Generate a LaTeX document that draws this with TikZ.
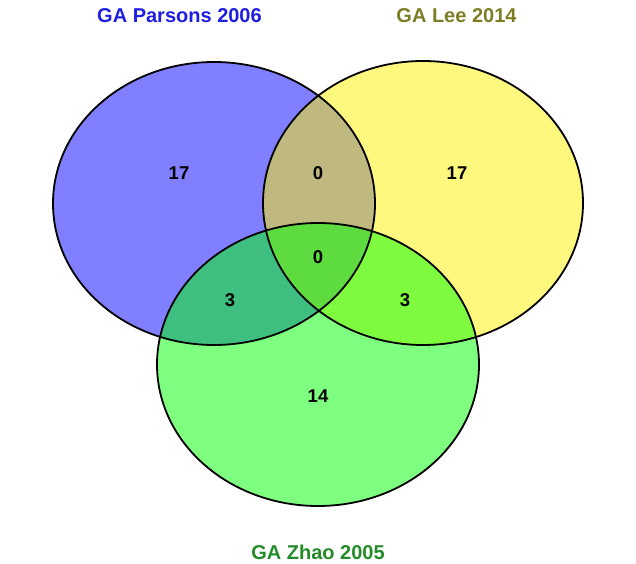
\documentclass[tikz,border=0pt]{standalone}
\usepackage{fontspec}
\setmainfont{Liberation Sans}
\usepackage{xcolor}
\usepackage{tikz}
\usetikzlibrary{positioning}
\definecolor{parsonsblue}{RGB}{30,30,225}
\definecolor{leeolive}{RGB}{125,125,35}
\definecolor{zhaogreen}{RGB}{35,140,40}
\tikzset{%
	setfill/.style  = {fill opacity=0.5}, % shaded set
	setline/.style  = {draw=black, line width=1.8pt}, % set outline
	count/.style    = {font=\fontsize{18.5}{18.5}\selectfont\bfseries, inner sep=0pt},
	title/.style    = {font=\fontsize{20}{20}\selectfont\bfseries, inner sep=0pt},
}

\begin{document}
\begin{tikzpicture}[x=1pt,y=1pt,node distance = 139pt]
	\useasboundingbox (0,0) rectangle (636,563);
	\coordinate (cp) at (214,359.5);
	\coordinate (cl) at (423,360);
	\coordinate (cz) at (318,198.5);
	\fill[setfill,blue] (cp) ellipse [x radius=161, y radius=141.5];
	\fill[setfill,yellow] (cl) ellipse [x radius=160, y radius=142];
	\fill[setfill,green] (cz) ellipse [x radius=161, y radius=141.5];
	\draw[setline] (cp) ellipse [x radius=161, y radius=141.5];
	\draw[setline] (cl) ellipse [x radius=160, y radius=142];
	\draw[setline] (cz) ellipse [x radius=161, y radius=141.5];
	\node[count] (p) at (179,390) {17};
	\node[count,right of=p] (pl) {0};
	\node[count,right of=pl] (l) {17};
	\node[count] (plz) at (318,306) {0};
	\node[count] (pz) at (230,263) {3};
	\node[count] (lz) at (405,263) {3};
	\node[count] (z) at (318,167) {14};
	\node[title,text=parsonsblue] (tp) at (179.5,547) {GA Parsons 2006};
	\node[title,text=leeolive] (tl) at (456.5,547) {GA Lee 2014};
	\node[title,text=zhaogreen] (tz) at (318,11) {GA Zhao 2005};
\end{tikzpicture}
\end{document}
